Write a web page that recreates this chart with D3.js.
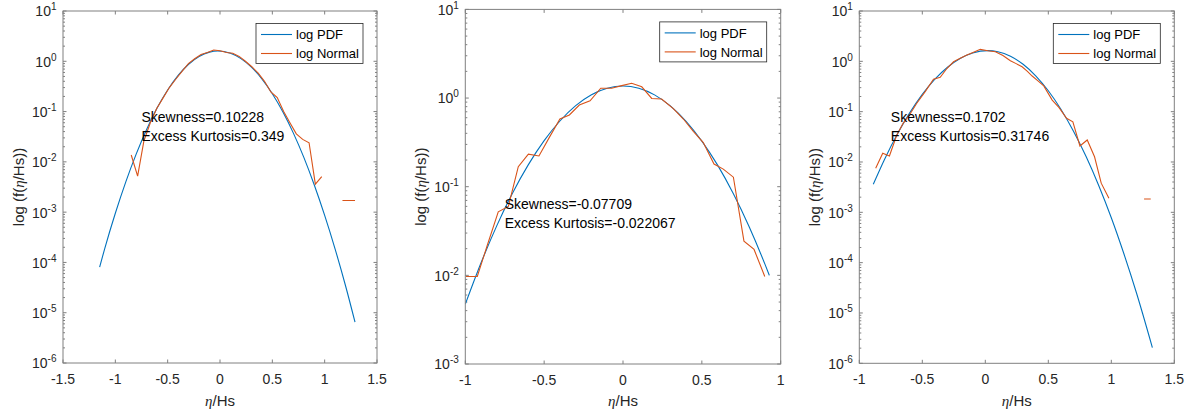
<!DOCTYPE html>
<html><head><meta charset="utf-8">
<script src="https://cdn.jsdelivr.net/npm/d3@7"></script>
<style>
html,body{margin:0;padding:0;background:#fff;}
svg{display:block;font-family:"Liberation Sans",Arial,Helvetica,sans-serif;}
</style></head><body>
<svg id="chart" width="1190" height="414"></svg>
<script>
// ---------- data ----------
const seriesNames = ["log PDF", "log Normal"];

const p1XTicks = [-1.5, -1, -0.5, 0, 0.5, 1, 1.5];
const p1YExp = [-6, -5, -4, -3, -2, -1, 0, 1];
const p1BlueX = [-1.15,-1.1,-1.0,-0.9,-0.8,-0.7,-0.6,-0.5,-0.4,-0.3,-0.2,-0.1,-0.02,0.1,0.2,0.3,0.4,0.5,0.6,0.7,0.8,0.9,1.0,1.1,1.2,1.29];
const p1BlueY = [8.1e-5,1.93e-4,9.5e-4,4.0e-3,0.0144,0.0447,0.119,0.269,0.523,0.873,1.245,1.52,1.60,1.44,1.13,0.762,0.447,0.226,0.099,0.0377,0.0124,3.5e-3,8.6e-4,1.84e-4,3.4e-5,6.5e-6];
const p1OrangeX = [-0.848,-0.787,-0.727,-0.666,-0.605,-0.545,-0.484,-0.423,-0.363,-0.302,-0.242,-0.181,-0.120,-0.060,0.001,0.061,0.122,0.183,0.243,0.304,0.365,0.425,0.486,0.547,0.608,0.668,0.729,0.790,0.851,0.911,0.972,1.05,1.17,1.23,1.29];
const p1OrangeY = [0.0137,0.0052,0.026,0.060,0.115,0.185,0.30,0.44,0.63,0.90,1.12,1.36,1.50,1.68,1.62,1.50,1.44,1.25,1.0,0.78,0.58,0.40,0.245,0.19,0.10,0.060,0.036,0.028,0.024,0.0036,0.0051,null,0.0017,0.0017,0.0017];
const p1Text = ["Skewness=0.10228", "Excess Kurtosis=0.349"];

const p2XTicks = [-1, -0.5, 0, 0.5, 1];
const p2YExp = [-3, -2, -1, 0, 1];
const p2BlueX = [-1.0,-0.9,-0.8,-0.7,-0.6,-0.5,-0.4,-0.3,-0.2,-0.1,0.0,0.1,0.2,0.3,0.4,0.5,0.6,0.7,0.8,0.9,0.928];
const p2BlueY = [4.73e-3,0.01387,0.0364,0.0851,0.1775,0.331,0.551,0.820,1.089,1.289,1.365,1.289,1.086,0.816,0.547,0.327,0.175,0.0832,0.0353,0.01337,0.0100];
const p2OrangeX = [-0.996,-0.924,-0.86,-0.791,-0.727,-0.664,-0.600,-0.533,-0.467,-0.400,-0.340,-0.277,-0.209,-0.141,-0.072,-0.008,0.055,0.119,0.182,0.245,0.319,0.383,0.446,0.509,0.577,0.636,0.700,0.767,0.831,0.899];
const p2OrangeY = [0.0097,0.0097,0.022,0.052,0.060,0.168,0.233,0.222,0.36,0.58,0.645,0.835,0.93,1.29,1.29,1.38,1.47,1.34,0.99,0.975,0.76,0.58,0.42,0.315,0.180,0.158,0.128,0.0243,0.0196,0.0097];
const p2Text = ["Skewness=-0.07709", "Excess Kurtosis=-0.022067"];

const p3XTicks = [-1, -0.5, 0, 0.5, 1, 1.5];
const p3YExp = [-6, -5, -4, -3, -2, -1, 0, 1];
const p3BlueX = [-0.889,-0.8,-0.7,-0.6,-0.5,-0.4,-0.3,-0.2,-0.1,0.02,0.1,0.2,0.3,0.4,0.5,0.6,0.7,0.8,0.9,1.0,1.1,1.2,1.326];
const p3BlueY = [3.6e-3,0.0112,0.0351,0.0946,0.220,0.442,0.764,1.14,1.47,1.63,1.55,1.26,0.873,0.516,0.260,0.112,0.041,0.0128,3.41e-3,7.8e-4,1.50e-4,2.49e-5,2.05e-6];
const p3OrangeX = [-0.870,-0.814,-0.761,-0.703,-0.650,-0.597,-0.544,-0.477,-0.411,-0.358,-0.305,-0.252,-0.199,-0.146,-0.093,-0.040,0.020,0.080,0.140,0.199,0.245,0.292,0.332,0.372,0.418,0.464,0.531,0.584,0.645,0.695,0.751,0.809,0.867,0.920,0.981,1.10,1.260,1.313];
const p3OrangeY = [0.0075,0.0149,0.0132,0.034,0.060,0.09,0.147,0.25,0.44,0.48,0.72,0.98,1.15,1.34,1.52,1.73,1.62,1.55,1.30,1.03,0.90,0.78,0.64,0.51,0.41,0.324,0.17,0.122,0.074,0.063,0.0208,0.0274,0.0127,0.0038,0.0019,null,0.00184,0.00184];
const p3Text = ["Skewness=0.1702", "Excess Kurtosis=0.31746"];

const textAnchorX = -0.75, textAnchorY = 0.05;

// ---------- layout ----------
const BLUE = "#0072BD", ORANGE = "#D95319", AX = "#262626", BOX = "#808080";
const panels = [
  {left:63,   right:377,   top:11,  bottom:363,   xd:[-1.5,1.5], xt:p1XTicks, ye:p1YExp, bx:p1BlueX, by:p1BlueY, ox:p1OrangeX, oy:p1OrangeY, txt:p1Text},
  {left:465.3,right:780.7, top:9.4, bottom:364,   xd:[-1,1],     xt:p2XTicks, ye:p2YExp, bx:p2BlueX, by:p2BlueY, ox:p2OrangeX, oy:p2OrangeY, txt:p2Text},
  {left:859.3,right:1174.3,top:11,  bottom:363.3, xd:[-1,1.5],   xt:p3XTicks, ye:p3YExp, bx:p3BlueX, by:p3BlueY, ox:p3OrangeX, oy:p3OrangeY, txt:p3Text}
];

const svg = d3.select("#chart");

panels.forEach(p => {
  const x = d3.scaleLinear().domain(p.xd).range([p.left, p.right]);
  const yMin = Math.pow(10, d3.min(p.ye)), yMax = Math.pow(10, d3.max(p.ye));
  const y = d3.scaleLog().domain([yMin, yMax]).range([p.bottom, p.top]);
  const g = svg.append("g");

  // background
  g.append("rect").attr("x", p.left).attr("y", p.top)
    .attr("width", p.right - p.left).attr("height", p.bottom - p.top)
    .attr("fill", "#fff");

  // minor log ticks
  const minor = [];
  p.ye.slice(0, -1).forEach(e => { for (let m = 2; m <= 9; m++) minor.push(m * Math.pow(10, e)); });
  const major = p.ye.map(e => Math.pow(10, e));

  const ticks = g.append("g").attr("stroke", BOX).attr("stroke-width", 1).attr("fill", "none");
  minor.forEach(v => {
    const yy = y(v);
    ticks.append("line").attr("x1", p.left).attr("x2", p.left + 2).attr("y1", yy).attr("y2", yy);
    ticks.append("line").attr("x1", p.right).attr("x2", p.right - 2).attr("y1", yy).attr("y2", yy);
  });
  major.forEach(v => {
    const yy = y(v);
    ticks.append("line").attr("x1", p.left).attr("x2", p.left + 3.5).attr("y1", yy).attr("y2", yy);
    ticks.append("line").attr("x1", p.right).attr("x2", p.right - 3.5).attr("y1", yy).attr("y2", yy);
  });
  p.xt.forEach(v => {
    const xx = x(v);
    ticks.append("line").attr("x1", xx).attr("x2", xx).attr("y1", p.bottom).attr("y2", p.bottom - 3.5);
    ticks.append("line").attr("x1", xx).attr("x2", xx).attr("y1", p.top).attr("y2", p.top + 3.5);
  });

  // clip
  const cid = "clip" + Math.round(p.left);
  svg.append("clipPath").attr("id", cid).append("rect")
    .attr("x", p.left).attr("y", p.top).attr("width", p.right - p.left).attr("height", p.bottom - p.top);

  const line = d3.line()
    .defined(d => d[1] !== null)
    .x(d => x(d[0])).y(d => y(d[1]));

  const blue = p.bx.map((v, i) => [v, p.by[i]]);
  const orange = p.ox.map((v, i) => [v, p.oy[i]]);

  g.append("path").attr("clip-path", `url(#${cid})`)
    .attr("d", line.curve(d3.curveMonotoneX)(blue))
    .attr("fill", "none").attr("stroke", BLUE).attr("stroke-width", 1.1);
  g.append("path").attr("clip-path", `url(#${cid})`)
    .attr("d", line.curve(d3.curveLinear)(orange))
    .attr("fill", "none").attr("stroke", ORANGE).attr("stroke-width", 1.1);

  // box
  g.append("rect").attr("x", p.left).attr("y", p.top)
    .attr("width", p.right - p.left).attr("height", p.bottom - p.top)
    .attr("fill", "none").attr("stroke", BOX).attr("stroke-width", 1);

  // x tick labels
  p.xt.forEach(v => {
    g.append("text").attr("x", x(v)).attr("y", p.bottom + 21)
      .attr("text-anchor", "middle").attr("font-size", 14).attr("fill", AX)
      .text(String(v));
  });
  // y tick labels
  p.ye.forEach(e => {
    const t = g.append("text").attr("x", p.left - 6.5).attr("y", y(Math.pow(10, e)) + 5.4)
      .attr("text-anchor", "end").attr("font-size", 14).attr("fill", AX);
    t.append("tspan").text("10");
    t.append("tspan").attr("font-size", 10).attr("dy", -6).text(String(e));
  });

  // axis labels
  const xl = g.append("text").attr("x", (p.left + p.right) / 2).attr("y", 406)
    .attr("text-anchor", "middle").attr("font-size", 15).attr("fill", AX);
  xl.append("tspan").attr("font-family", "'Liberation Serif','DejaVu Serif',serif").attr("font-style", "italic").text("η");
  xl.append("tspan").text("/Hs");

  const cy = (p.top + p.bottom) / 2, cx = p.left - 39;
  const yl = g.append("text").attr("transform", `translate(${cx},${cy}) rotate(-90)`)
    .attr("text-anchor", "middle").attr("font-size", 15).attr("fill", AX);
  yl.append("tspan").text("log (f(");
  yl.append("tspan").attr("font-family", "'Liberation Serif','DejaVu Serif',serif").attr("font-style", "italic").text("η");
  yl.append("tspan").text("/Hs))");

  // annotation
  const ax0 = x(textAnchorX), ay0 = y(textAnchorY);
  p.txt.forEach((s, i) => {
    g.append("text").attr("x", ax0).attr("y", ay0 - 4.5 + i * 19)
      .attr("font-size", 14).attr("fill", "#000").text(s);
  });

  // legend
  const lw = 107, lh = 40;
  const lx = p.right - 14 - lw, ly = p.top + 12.5;
  const lg = g.append("g");
  lg.append("rect").attr("x", lx).attr("y", ly).attr("width", lw).attr("height", lh)
    .attr("fill", "#fff").attr("stroke", "#262626").attr("stroke-width", 0.8);
  [BLUE, ORANGE].forEach((c, i) => {
    const yy = ly + 11 + i * 19;
    lg.append("line").attr("x1", lx + 5).attr("x2", lx + 36).attr("y1", yy).attr("y2", yy)
      .attr("stroke", c).attr("stroke-width", 1.1);
    lg.append("text").attr("x", lx + 40).attr("y", yy + 4.6)
      .attr("font-size", 13).attr("fill", "#000").text(seriesNames[i]);
  });
});
</script>
</body></html>
